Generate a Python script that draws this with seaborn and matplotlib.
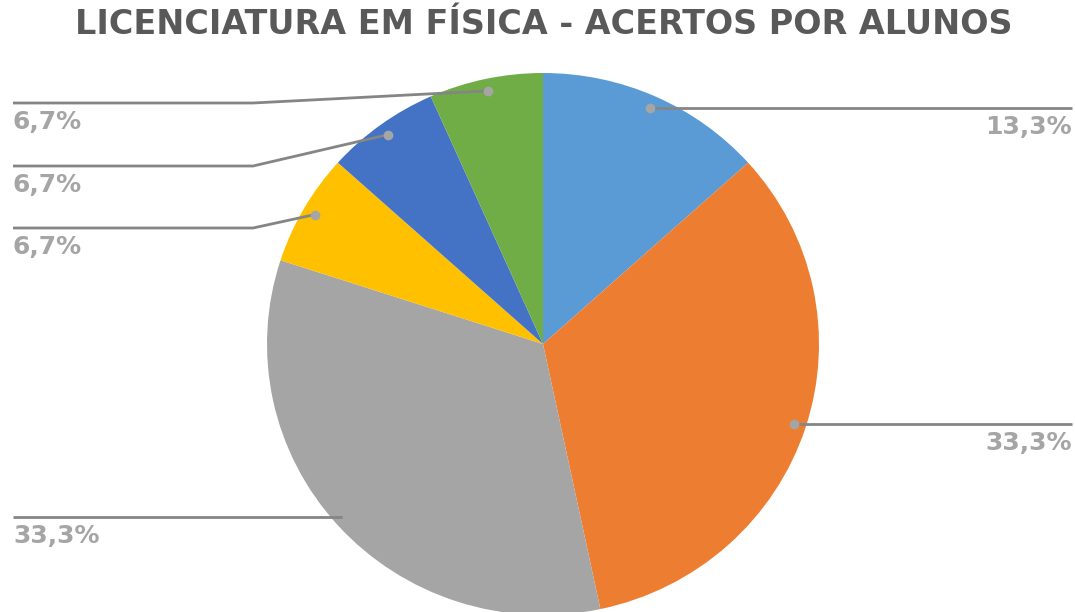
import matplotlib
matplotlib.use("Agg")
import matplotlib.pyplot as plt
import numpy as np
import seaborn as sns

# ----------------------------------------------------------------------------
# data
# ----------------------------------------------------------------------------
grupos = ["Grupo 1", "Grupo 2", "Grupo 3", "Grupo 4", "Grupo 5", "Grupo 6"]
alunos = [2, 5, 5, 1, 1, 1]
cores = ["#5B9BD5", "#ED7D31", "#A5A5A5", "#FFC000", "#4472C4", "#70AD47"]
titulo = "LICENCIATURA EM FÍSICA - ACERTOS POR ALUNOS"

sns.set_theme(style="white")
plt.rcParams["font.family"] = ["DejaVu Sans"]

W, H = 1075, 612
CX, CY, RX, RY = 543, 344, 276, 271


def px(x, y):
    # pixel position -> data coords of the (slightly squashed) pie axes
    return (x - CX) / RX, (CY - y) / RY


fig = plt.figure(figsize=(W / 100, H / 100), dpi=100)
ax = fig.add_axes([0, 0, 1, 1])

wedges, _ = ax.pie(alunos, colors=cores, startangle=90, counterclock=False,
                   radius=1, wedgeprops=dict(linewidth=0))
ax.set_aspect("auto")
ax.set_xlim(-CX / RX, (W - CX) / RX)
ax.set_ylim(-(H - CY) / RY, CY / RY)
ax.axis("off")

total = sum(alunos)
rotulos = ["{:.1f}%".format(v / total * 100).replace(".", ",") for v in alunos]

# row heights (px) for the left-hand labels, top to bottom by wedge order
left_rows = {5: 103, 4: 166, 3: 228, 2: 517}

line_c = "#858585"
txt_c = "#A5A5A5"
for i, w in enumerate(wedges):
    ang = np.deg2rad((w.theta1 + w.theta2) / 2)
    dx, dy = 0.955 * np.cos(ang), 0.955 * np.sin(ang)
    dot_y_px = CY - dy * RY
    if np.cos(ang) > 0:
        x_end, _ = px(1072, 0)
        ax.plot([dx, x_end], [dy, dy], color=line_c, lw=2, solid_capstyle="butt")
        ax.text(x_end, px(0, dot_y_px + 19)[1], rotulos[i], ha="right", va="center",
                fontsize=18, fontweight="heavy", color=txt_c)
    else:
        row = left_rows[i]
        ex, ey = px(253, row)
        if abs(row - dot_y_px) < 3:
            ex, ey = dx, dy
        x0, _ = px(13, 0)
        ax.plot([dx, ex, x0], [dy, ey, ey], color=line_c, lw=2, solid_capstyle="butt")
        ax.text(x0, px(0, row + 19)[1], rotulos[i], ha="left", va="center",
                fontsize=18, fontweight="heavy", color=txt_c)
    ax.plot(dx, dy, "o", color="#A5A5A5", ms=7, mec="none", zorder=5)

fig.text(544 / W, 1 - 25 / H, titulo, ha="center", va="center", fontsize=24,
         fontweight="bold", color="#595959")

fig.savefig("out.png", dpi=100)
